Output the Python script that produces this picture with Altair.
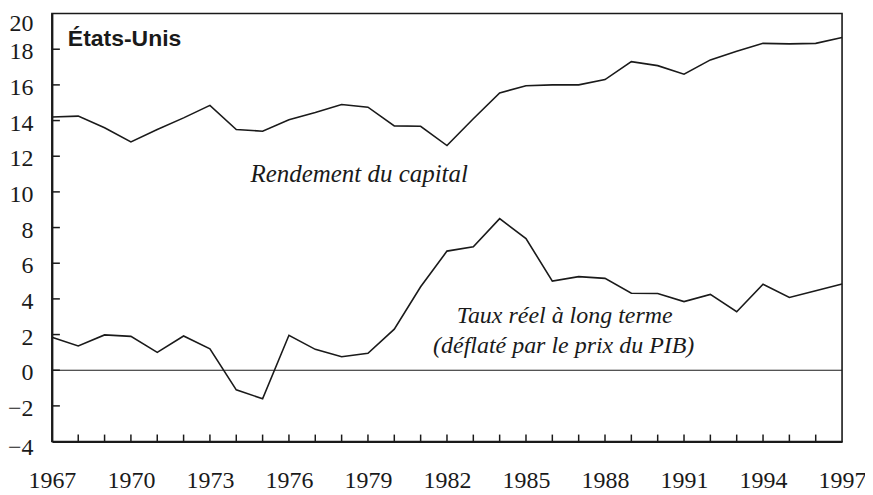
import altair as alt
import pandas as pd

years = list(range(1967, 1998))
rendement = [14.2, 14.25, 13.6, 12.8, 13.5, 14.15, 14.85, 13.5, 13.4, 14.05,
             14.45, 14.9, 14.75, 13.7, 13.68, 12.6, 14.1, 15.55, 15.95, 16.0,
             16.0, 16.3, 17.3, 17.08, 16.6, 17.4, 17.88, 18.33, 18.3, 18.33, 18.66]
taux = [1.85, 1.36, 1.98, 1.9, 1.0, 1.92, 1.2, -1.1, -1.6, 1.96,
        1.17, 0.76, 0.95, 2.3, 4.68, 6.68, 6.92, 8.5, 7.38, 5.0,
        5.25, 5.15, 4.32, 4.3, 3.85, 4.25, 3.28, 4.82, 4.08, 4.46, 4.83]
x_labels = list(range(1967, 1998, 3))
y_labels = list(range(-4, 21, 2))
x_minor = list(range(1968, 1997))
y_minor = list(range(-2, 19, 2))

W, H = 792, 429
INK = "#1a1a1a"
SERIF = "Liberation Serif"

df = pd.DataFrame({
    "year": years * 2,
    "value": rendement + taux,
    "series": ["Rendement du capital"] * len(years) + ["Taux réel"] * len(years),
})

xscale = alt.Scale(domain=[1967, 1997], nice=False, zero=False)
yscale = alt.Scale(domain=[-4, 20], nice=False, zero=False)

xaxis = alt.Axis(
    values=x_labels, format="d", title=None, ticks=False, tickSize=0,
    labelPadding=27, domainWidth=2, domainColor=INK, grid=False,
    labelFont=SERIF, labelFontSize=24, labelColor=INK,
    labelFlush=False, labelOverlap=False)
yaxis = alt.Axis(
    values=y_labels, format="d", title=None, ticks=False, tickSize=0,
    labelPadding=19, domainWidth=2, domainColor=INK, grid=False,
    labelFont=SERIF, labelFontSize=24, labelColor=INK,
    labelFlush=False, labelOverlap=False, labelBaseline="alphabetic",
    labelOffset={"expr": "datum.value == 20 ? 16.5 : (datum.value == -4 ? 13 : 9.5)"})

lines = alt.Chart(df).mark_line(color=INK, strokeWidth=1.6).encode(
    x=alt.X("year:Q", scale=xscale, axis=xaxis),
    y=alt.Y("value:Q", scale=yscale, axis=yaxis),
    detail="series:N",
)

zero = alt.Chart(pd.DataFrame({"value": [0]})).mark_rule(color=INK, strokeWidth=1.1).encode(
    y=alt.Y("value:Q", scale=yscale, axis=yaxis),
)

yt = alt.Chart(pd.DataFrame({"value": y_minor})).mark_rule(color=INK, strokeWidth=1.5).encode(
    y=alt.Y("value:Q", scale=yscale, axis=yaxis),
    x=alt.value(0), x2=alt.value(8),
)

xt = alt.Chart(pd.DataFrame({"year": x_minor})).mark_rule(color=INK, strokeWidth=1.5).encode(
    x=alt.X("year:Q", scale=xscale, axis=xaxis),
    y=alt.value(H), y2=alt.value(H - 7),
)

def label(txt, x, y, font=SERIF, size=24, style="italic", weight="normal", align="center"):
    return alt.Chart(pd.DataFrame({"t": [txt]})).mark_text(
        font=font, fontSize=size, fontStyle=style, fontWeight=weight,
        align=align, baseline="alphabetic", color=INK,
    ).encode(text="t:N", x=alt.value(x), y=alt.value(y))

title = label("États-Unis", 16, 33, font="Liberation Sans", size=23, style="normal",
              weight="bold", align="left")
t1 = label("Rendement du capital", 308, 169, size=25)
t2 = label("Taux réel à long terme", 514, 310)
t3 = label("(déflaté par le prix du PIB)", 513, 340)

chart = alt.layer(lines, zero, yt, xt, title, t1, t2, t3).properties(
    width=W, height=H,
    autosize=alt.AutoSizeParams(type="none"),
    padding={"left": 44, "top": 5, "right": 23, "bottom": 53},
    background="white",
).configure_view(stroke=INK, strokeWidth=1.6)

chart.save("out.html", embed_options={"renderer": "svg", "actions": False})
